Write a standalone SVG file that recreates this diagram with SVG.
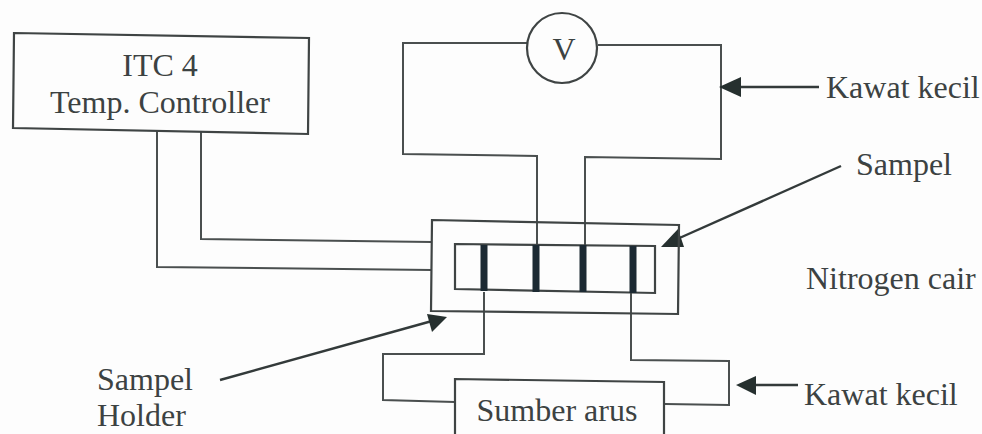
<svg xmlns="http://www.w3.org/2000/svg" width="982" height="434" viewBox="0 0 982 434">
<style>
text{font-family:"Liberation Serif",serif;font-size:32px;fill:#3c4242}
.c{fill:none;stroke:#4a4f4f;stroke-width:2}
.s{fill:none;stroke:#3f4444;stroke-width:2.2}
.a{fill:none;stroke:#333a3a;stroke-width:2.4}
.t{stroke:#1c2a33;stroke-width:7;fill:none}
.h{fill:#26302f;stroke:none}
</style>
<rect width="982" height="434" fill="#fdfdfd"/>
<g id="connectors">
<path class="c" d="M527 43H403V154L537 156V245"/>
<path class="c" d="M598 45H721V159L585 157V245"/>
<path class="c" d="M201 132V239L432 242"/>
<path class="c" d="M157 131V267L432 270"/>
<path class="c" d="M484 292V354H383V400L455 402"/>
<path class="c" d="M631 293V360L729 361V405L665 404"/>
<path class="a" d="M819 87H735"/><path class="h" d="M719 87L741 77V97Z"/>
<path class="a" d="M841 166L675 240"/><path class="h" d="M661 247L678 229L684 247Z"/>
<path class="a" d="M220 380L432 321"/><path class="h" d="M447 317L432 332L427 314Z"/>
<path class="a" d="M798 385H750"/><path class="h" d="M736 385L756 376V395Z"/>
</g>
<g id="controller"><path class="s" d="M14 33L309 38L308 134L13 128Z"/>
<text x="160" y="76" text-anchor="middle">ITC 4</text><text x="160" y="113" text-anchor="middle">Temp. Controller</text></g>
<g id="voltmeter"><circle class="s" cx="562" cy="48" r="35"/><text x="564" y="60" text-anchor="middle">V</text></g>
<g id="sample-holder"><path class="s" d="M432 220L679 225L678 314L431 311Z"/></g>
<g id="sample"><path class="s" d="M455 244L655 246V293L455 289Z"/>
<path class="t" d="M484 245V291M536 245V292M583 245V292M633 246V293"/></g>
<g id="current-source"><path class="s" d="M664 434V382L455 379V434"/><text x="557" y="421" text-anchor="middle">Sumber arus</text></g>
<g id="labels">
<text x="826" y="98">Kawat kecil</text>
<text x="856" y="175">Sampel</text>
<text x="806" y="289">Nitrogen cair</text>
<text x="97" y="390">Sampel</text>
<text x="97" y="426">Holder</text>
<text x="804" y="405">Kawat kecil</text>
</g>
</svg>
